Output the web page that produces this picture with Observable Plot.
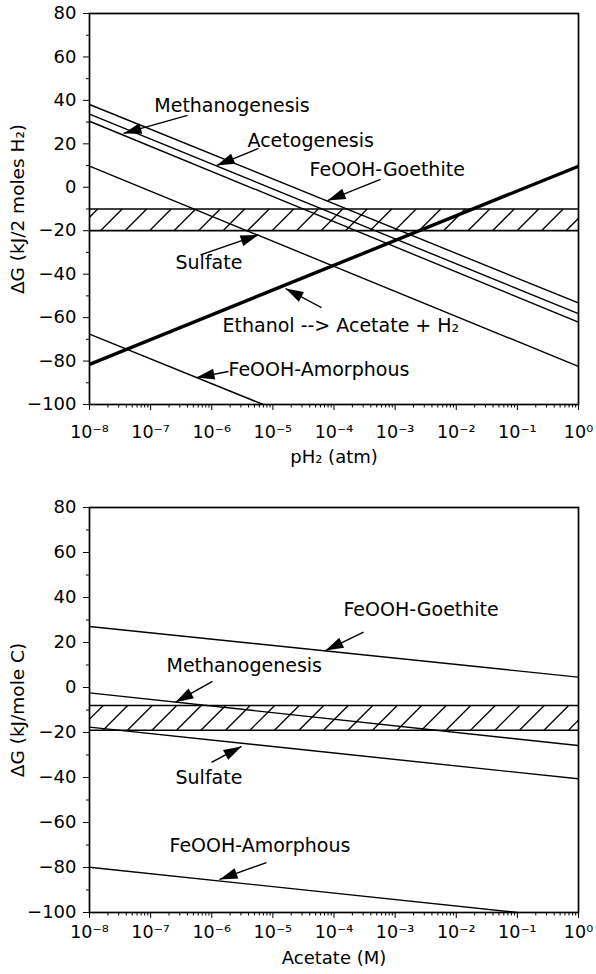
<!DOCTYPE html>
<html>
<head>
<meta charset="utf-8">
<script src="https://cdn.jsdelivr.net/npm/d3@7"></script>
<script src="https://cdn.jsdelivr.net/npm/@observablehq/plot@0.6"></script>
<style>
  body { margin: 0; background: #fff; }
  #chart { width: 596px; }
  #chart svg { display: block; }
</style>
</head>
<body>
<div id="chart"></div>
<script>
// ---------- shared axis values ----------
const xTickExps = [-8, -7, -6, -5, -4, -3, -2, -1, 0];
const yTicks = [80, 60, 40, 20, 0, -20, -40, -60, -80, -100];
const yMinorTicks = [70, 50, 30, 10, -10, -30, -50, -70, -90];

// ---------- top panel: ΔG vs pH2 (log10 atm) ----------
const topNames = ["Acetogenesis", "Methanogenesis", "FeOOH-Goethite", "Sulfate", "Ethanol --> Acetate + H2", "FeOOH-Amorphous"];
const topLogX = [[-8, 0], [-8, 0], [-8, 0], [-8, 0], [-8, 0], [-8, -5.16]];
const topDG = [[38.1, -53.3], [33.7, -58.2], [30.4, -62.1], [9.7, -82.5], [-81.5, 9.7], [-67.6, -100]];
const topThick = "Ethanol --> Acetate + H2";
const topBand = [-20, -10];

const topLabels = ["Methanogenesis", "Acetogenesis", "FeOOH-Goethite", "Sulfate", "Ethanol --> Acetate + H₂", "FeOOH-Amorphous"];
const topLabelX = [-6.94, -5.415, -4.40, -6.593, -5.824, -5.726];
const topLabelY = [34.6, 18.5, 5.4, -37.4, -66.7, -87.1];
const topArrowTailX = [-6.397, -5.235, -3.239, -6.184, -4.204, -5.726];
const topArrowTailY = [33.1, 17.9, 3.6, -31.1, -55.4, -84.8];
const topArrowTipX = [-7.444, -5.922, -4.106, -5.235, -4.793, -6.25];
const topArrowTipY = [24.8, 10.0, -6.1, -21.9, -46.6, -87.6];

// ---------- bottom panel: ΔG vs Acetate (log10 M) ----------
const botNames = ["FeOOH-Goethite", "Methanogenesis", "Sulfate", "FeOOH-Amorphous"];
const botLogX = [[-8, 0], [-8, 0], [-8, 0], [-8, -1.0]];
const botDG = [[27.1, 4.6], [-2.4, -25.8], [-17.6, -40.6], [-79.9, -100]];
const botBand = [-19, -8];

const botLabels = ["Methanogenesis", "FeOOH-Goethite", "Sulfate", "FeOOH-Amorphous"];
const botLabelX = [-6.74, -3.845, -6.593, -6.691];
const botLabelY = [6.8, 32, -42.7, -73.2];
const botArrowTailX = [-5.988, -3.517, -6.004, -5.104];
const botArrowTailY = [2.7, 24.6, -33.3, -77.8];
const botArrowTipX = [-6.593, -4.139, -5.513, -5.873];
const botArrowTipY = [-6.5, 16.4, -26.2, -85.3];

// ---------- drawing ----------
const W = 596, ML = 89, MR = 18;
const FONT = "DejaVu Sans";
const headSymbol = { draw(c) { c.moveTo(0, 0); c.lineTo(5.5, 18); c.lineTo(-5.5, 18); c.closePath(); } };
const SUP = {"-": "⁻", "0": "⁰", "1": "¹", "2": "²", "3": "³", "4": "⁴", "5": "⁵", "6": "⁶", "7": "⁷", "8": "⁸", "9": "⁹"};
const powFmt = v => "10" + String(Math.round(Math.log10(v))).split("").map(ch => SUP[ch]).join("");
const numFmt = d => d < 0 ? "\u2212" + (-d) : String(d);
const minorX = xTickExps.slice(0, -1).flatMap(k => [2, 3, 4, 5, 6, 7, 8, 9].map(m => m * 10 ** k));

function panel(o) {
  const pxDec = (W - ML - MR) / 8;
  const pxUnit = (o.height - o.mt - o.mb) / 180;
  const pts = o.names.flatMap((n, i) => o.logX[i].map((e, j) => ({name: n, x: 10 ** e, y: o.dG[i][j]})));
  const thin = pts.filter(d => d.name !== o.thick);
  const thick = pts.filter(d => d.name === o.thick);
  const labels = o.labels.map((t, i) => ({text: t, x: 10 ** o.labelX[i], y: o.labelY[i]}));
  const arrows = o.tailX.map((tx, i) => {
    const dxs = (o.tipX[i] - tx) * pxDec;
    const dys = (o.tipY[i] - o.tailY[i]) * pxUnit; // upward positive
    return {x1: 10 ** tx, y1: o.tailY[i], x2: 10 ** o.tipX[i], y2: o.tipY[i],
            angle: Math.atan2(dxs, dys) * 180 / Math.PI};
  });
  // decorative hatching of the band (45°)
  const bandPx = (o.band[1] - o.band[0]) * pxUnit;
  const step = 24.5 / pxDec;
  const hatch = d3.range(o.hatchStart - 3 * step, 0.6, step).map(e => ({
    x1: 10 ** e, y1: o.band[0], x2: 10 ** (e + bandPx / pxDec), y2: o.band[1]
  }));

  return Plot.plot({
    width: W, height: o.height,
    marginLeft: ML, marginRight: MR, marginTop: o.mt, marginBottom: o.mb,
    x: {type: "log", domain: [1e-8, 1], axis: null},
    y: {domain: [-100, 80], axis: null},
    style: {fontFamily: FONT, fontSize: "17px", color: "black", background: "white", overflow: "visible"},
    marks: [
      Plot.link(hatch, {x1: "x1", y1: "y1", x2: "x2", y2: "y2", stroke: "black", strokeWidth: 1.3, clip: true}),
      Plot.ruleY(o.band, {stroke: "black", strokeWidth: 1.7}),
      Plot.line(thin, {x: "x", y: "y", z: "name", stroke: "black", strokeWidth: 1.4, clip: true}),
      Plot.line(thick, {x: "x", y: "y", z: "name", stroke: "black", strokeWidth: 3.4, clip: true}),
      Plot.frame({stroke: "black", strokeWidth: 1.7}),
      Plot.axisY({ticks: yTicks, tickSize: 6, tickPadding: 7, tickFormat: numFmt, label: null, fontSize: 18}),
      Plot.axisY({ticks: yMinorTicks, tickSize: 3, tickFormat: () => "", label: null}),
      Plot.axisX({ticks: xTickExps.map(e => 10 ** e), tickSize: 6, tickPadding: o.xTickPad, tickFormat: powFmt, label: null, fontSize: 17.5}),
      Plot.axisX({ticks: minorX, tickSize: 3.5, tickFormat: () => "", label: null}),
      Plot.text([o.xLabel], {text: d => d, frameAnchor: "bottom", textAnchor: "middle", lineAnchor: "bottom", dy: o.xLabelDy, fontSize: 18}),
      Plot.text([o.yLabel], {text: d => d, frameAnchor: "left", textAnchor: "middle", rotate: -90, dx: -71, fontSize: 18.5}),
      Plot.link(arrows, {x1: "x1", y1: "y1", x2: "x2", y2: "y2", stroke: "black", strokeWidth: 1.4}),
      Plot.dot(arrows, {x: "x2", y: "y2", symbol: headSymbol, rotate: "angle", fill: "black", stroke: "none", r: 5}),
      Plot.text(labels, {x: "x", y: "y", text: "text", textAnchor: "start", lineAnchor: "bottom", fontSize: 19})
    ]
  });
}

const chart = document.getElementById("chart");
chart.append(panel({
  height: 490, mt: 13, mb: 86, xTickPad: 15, xLabelDy: 58,
  names: topNames, logX: topLogX, dG: topDG, thick: topThick, band: topBand, hatchStart: -7.82,
  labels: topLabels, labelX: topLabelX, labelY: topLabelY,
  tailX: topArrowTailX, tailY: topArrowTailY, tipX: topArrowTipX, tipY: topArrowTipY,
  xLabel: "pH₂ (atm)", yLabel: "ΔG (kJ/2 moles H₂)"
}));
chart.append(panel({
  height: 484, mt: 17, mb: 62, xTickPad: 7, xLabelDy: 51,
  names: botNames, logX: botLogX, dG: botDG, thick: null, band: botBand, hatchStart: -7.78,
  labels: botLabels, labelX: botLabelX, labelY: botLabelY,
  tailX: botArrowTailX, tailY: botArrowTailY, tipX: botArrowTipX, tipY: botArrowTipY,
  xLabel: "Acetate (M)", yLabel: "ΔG (kJ/mole C)"
}));
</script>
</body>
</html>
